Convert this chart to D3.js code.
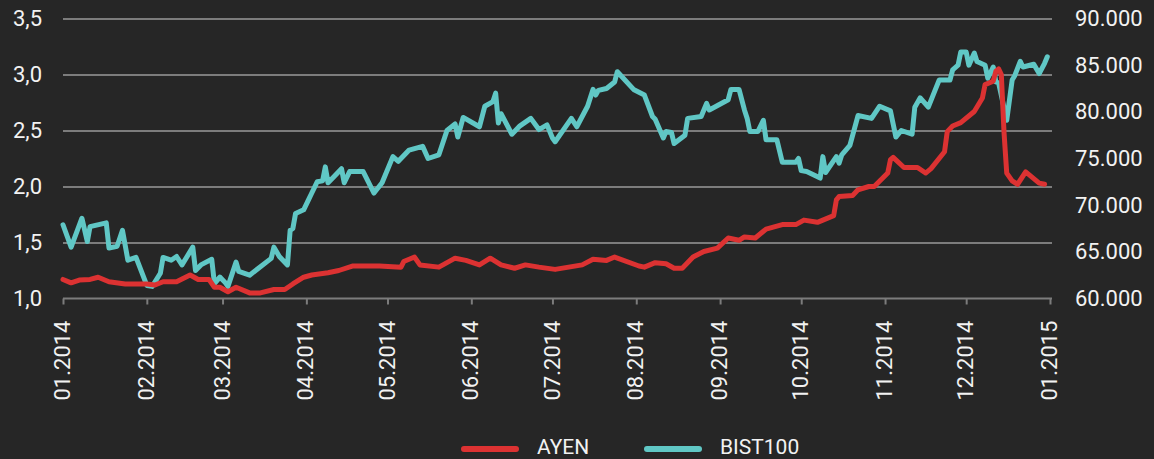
<!DOCTYPE html>
<html lang="en">

<head>
    <meta charset="UTF-8">
    <title>AYEN / BIST100</title>
    <style>
        html, body {
            margin: 0;
            padding: 0;
            background: #262626;
        }

        svg#chart {
            display: block;
        }
    </style>
</head>

<body>
    <script src="https://d3js.org/d3.v7.min.js"></script>
    <script>
        // AYEN (left axis) vs BIST100 (right axis), 2014

        const seriesNames = ['AYEN', 'BIST100']
        const leftTicks = [1.0, 1.5, 2.0, 2.5, 3.0, 3.5]
        const rightTicks = [60000, 65000, 70000, 75000, 80000, 85000, 90000]

        const ayenData = [
            ['2014-01-01', 1.17], ['2014-01-04', 1.14], ['2014-01-07', 1.165], ['2014-01-11', 1.17],
            ['2014-01-14', 1.19], ['2014-01-18', 1.15], ['2014-01-24', 1.13], ['2014-02-01', 1.13],
            ['2014-02-04', 1.12], ['2014-02-07', 1.15], ['2014-02-12', 1.15], ['2014-02-17', 1.21],
            ['2014-02-20', 1.17], ['2014-02-24', 1.17], ['2014-02-26', 1.10], ['2014-02-28', 1.10],
            ['2014-03-03', 1.06], ['2014-03-06', 1.10], ['2014-03-11', 1.05], ['2014-03-15', 1.05],
            ['2014-03-20', 1.08], ['2014-03-24', 1.08], ['2014-03-27', 1.13], ['2014-03-31', 1.19],
            ['2014-04-03', 1.21], ['2014-04-09', 1.23], ['2014-04-13', 1.25], ['2014-04-18', 1.29],
            ['2014-04-28', 1.29], ['2014-05-06', 1.28], ['2014-05-07', 1.33], ['2014-05-11', 1.37],
            ['2014-05-13', 1.30], ['2014-05-20', 1.28], ['2014-05-26', 1.36], ['2014-05-30', 1.34],
            ['2014-06-04', 1.30], ['2014-06-08', 1.36], ['2014-06-12', 1.30], ['2014-06-17', 1.27],
            ['2014-06-21', 1.30], ['2014-06-26', 1.28], ['2014-07-02', 1.26], ['2014-07-07', 1.28],
            ['2014-07-12', 1.30], ['2014-07-16', 1.35], ['2014-07-21', 1.34], ['2014-07-24', 1.37],
            ['2014-08-02', 1.29], ['2014-08-04', 1.28], ['2014-08-08', 1.32], ['2014-08-12', 1.31],
            ['2014-08-15', 1.27], ['2014-08-18', 1.27], ['2014-08-22', 1.37], ['2014-08-26', 1.42],
            ['2014-08-31', 1.45], ['2014-09-04', 1.54], ['2014-09-08', 1.52], ['2014-09-10', 1.55],
            ['2014-09-14', 1.54], ['2014-09-18', 1.62], ['2014-09-21', 1.64], ['2014-09-24', 1.66],
            ['2014-09-29', 1.66], ['2014-10-02', 1.70], ['2014-10-07', 1.68], ['2014-10-11', 1.72],
            ['2014-10-13', 1.74], ['2014-10-14', 1.88], ['2014-10-15', 1.91], ['2014-10-20', 1.92],
            ['2014-10-22', 1.97], ['2014-10-26', 2.00], ['2014-10-28', 2.00], ['2014-11-02', 2.12],
            ['2014-11-03', 2.24], ['2014-11-04', 2.26], ['2014-11-08', 2.17], ['2014-11-13', 2.17],
            ['2014-11-16', 2.12], ['2014-11-18', 2.16], ['2014-11-23', 2.31], ['2014-11-24', 2.49],
            ['2014-11-26', 2.54], ['2014-11-29', 2.57], ['2014-12-04', 2.67], ['2014-12-06', 2.75],
            ['2014-12-07', 2.79], ['2014-12-08', 2.91], ['2014-12-11', 2.94], ['2014-12-12', 3.03],
            ['2014-12-13', 3.05], ['2014-12-14', 3.00], ['2014-12-15', 2.48], ['2014-12-16', 2.12],
            ['2014-12-18', 2.05], ['2014-12-20', 2.02], ['2014-12-23', 2.13], ['2014-12-25', 2.09],
            ['2014-12-28', 2.03], ['2014-12-30', 2.02]
        ]

        const bistData = [
            ['2014-01-01', 67900], ['2014-01-04', 65500], ['2014-01-08', 68600], ['2014-01-10', 66100],
            ['2014-01-11', 67700], ['2014-01-17', 68100], ['2014-01-18', 65400], ['2014-01-21', 65600],
            ['2014-01-23', 67300], ['2014-01-25', 64100], ['2014-01-28', 64400], ['2014-02-01', 61400],
            ['2014-02-03', 61300], ['2014-02-06', 62700], ['2014-02-07', 64400], ['2014-02-10', 64100],
            ['2014-02-12', 64500], ['2014-02-14', 63600], ['2014-02-18', 65500], ['2014-02-19', 63000],
            ['2014-02-21', 63600], ['2014-02-25', 64200], ['2014-02-26', 61600], ['2014-02-28', 62300],
            ['2014-03-02', 61700], ['2014-03-03', 61300], ['2014-03-06', 63900], ['2014-03-07', 62900],
            ['2014-03-11', 62500], ['2014-03-19', 64300], ['2014-03-20', 65500], ['2014-03-22', 64500],
            ['2014-03-25', 63600], ['2014-03-26', 67300], ['2014-03-27', 67500], ['2014-03-28', 69100],
            ['2014-03-31', 69500], ['2014-04-02', 70700], ['2014-04-03', 71300], ['2014-04-05', 72500],
            ['2014-04-07', 72600], ['2014-04-08', 74100], ['2014-04-09', 72400], ['2014-04-11', 73000],
            ['2014-04-14', 73900], ['2014-04-15', 72400], ['2014-04-17', 73600], ['2014-04-22', 73600],
            ['2014-04-26', 71300], ['2014-04-29', 72400], ['2014-05-03', 75200], ['2014-05-05', 74700],
            ['2014-05-09', 75900], ['2014-05-14', 76300], ['2014-05-16', 75000], ['2014-05-20', 75400],
            ['2014-05-23', 78000], ['2014-05-26', 78700], ['2014-05-27', 77300], ['2014-05-29', 79400],
            ['2014-06-04', 78400], ['2014-06-06', 80600], ['2014-06-09', 81100], ['2014-06-10', 82000],
            ['2014-06-11', 78800], ['2014-06-12', 79800], ['2014-06-16', 77600], ['2014-06-19', 78500],
            ['2014-06-23', 79300], ['2014-06-26', 78100], ['2014-06-29', 78600], ['2014-07-01', 77200],
            ['2014-07-02', 76800], ['2014-07-08', 79300], ['2014-07-10', 78400], ['2014-07-14', 80600],
            ['2014-07-16', 82400], ['2014-07-17', 81800], ['2014-07-18', 82300], ['2014-07-21', 82500],
            ['2014-07-24', 83200], ['2014-07-25', 84300], ['2014-07-31', 82400], ['2014-08-04', 81800],
            ['2014-08-07', 79500], ['2014-08-08', 79200], ['2014-08-11', 77200], ['2014-08-12', 77900],
            ['2014-08-14', 77800], ['2014-08-15', 76600], ['2014-08-19', 77500], ['2014-08-20', 79300],
            ['2014-08-25', 79500], ['2014-08-27', 80900], ['2014-08-28', 80200], ['2014-09-04', 81300],
            ['2014-09-05', 82400], ['2014-09-08', 82400], ['2014-09-10', 80200], ['2014-09-11', 79300],
            ['2014-09-12', 77900], ['2014-09-15', 77900], ['2014-09-17', 79100], ['2014-09-18', 77000],
            ['2014-09-22', 77000], ['2014-09-24', 74600], ['2014-09-29', 74600], ['2014-09-30', 75000],
            ['2014-10-01', 73700], ['2014-10-03', 73600], ['2014-10-08', 72900], ['2014-10-09', 75200],
            ['2014-10-10', 73500], ['2014-10-14', 75200], ['2014-10-15', 74500], ['2014-10-16', 75400],
            ['2014-10-19', 76400], ['2014-10-22', 79600], ['2014-10-27', 79300], ['2014-10-30', 80600],
            ['2014-11-03', 80100], ['2014-11-05', 77300], ['2014-11-07', 78000], ['2014-11-11', 77600],
            ['2014-11-12', 80500], ['2014-11-14', 81500], ['2014-11-17', 80500], ['2014-11-21', 83400],
            ['2014-11-25', 83400], ['2014-11-26', 84500], ['2014-11-28', 85000], ['2014-11-29', 86400],
            ['2014-12-01', 86400], ['2014-12-02', 85000], ['2014-12-04', 86300], ['2014-12-05', 85400],
            ['2014-12-08', 85000], ['2014-12-09', 83600], ['2014-12-11', 84800], ['2014-12-12', 83200],
            ['2014-12-13', 83100], ['2014-12-16', 79100], ['2014-12-18', 83400], ['2014-12-19', 83900],
            ['2014-12-21', 85400], ['2014-12-22', 84800], ['2014-12-26', 85100], ['2014-12-28', 84100],
            ['2014-12-30', 85200], ['2014-12-31', 85900]
        ]

        const width = 1154
        const height = 459
        const plot = { left: 63, right: 1050, top: 18.5, bottom: 298.5 }
        const colors = { AYEN: '#dc3232', BIST100: '#60c7c5' }
        const font = 'Roboto, "DejaVu Sans", sans-serif'
        const gridColor = '#7c7c7c'
        const textColor = '#f2f2f2'

        const parseDate = d3.timeParse('%Y-%m-%d')
        const trLocale = d3.formatLocale({ decimal: ',', thousands: '.', grouping: [3], currency: ['', ''] })

        const svg = d3.select('body')
            .append('svg')
            .attr('id', 'chart')
            .attr('width', width)
            .attr('height', height)

        const x = d3.scaleTime()
            .domain([new Date(2014, 0, 1), new Date(2015, 0, 1)])
            .range([plot.left, plot.right])

        const yLeft = d3.scaleLinear()
            .domain([1, 3.5])
            .range([plot.bottom, plot.top])

        const yRight = d3.scaleLinear()
            .domain([60000, 90000])
            .range([plot.bottom, plot.top])

        // horizontal grid lines
        const grid = svg.append('g')
            .attr('class', 'grid')
            .attr('transform', 'translate(' + plot.left + ',0)')
            .call(d3.axisLeft(yLeft)
                .tickValues(leftTicks.slice(1))
                .tickSize(-(plot.right + 2 - plot.left))
                .tickFormat(''))
        grid.select('.domain').remove()
        grid.selectAll('line')
            .attr('stroke', gridColor)
            .attr('stroke-width', 2)

        // x axis with rotated month labels
        const xAxis = svg.append('g')
            .attr('class', 'x-axis')
            .attr('transform', 'translate(0,' + plot.bottom + ')')
            .call(d3.axisBottom(x)
                .ticks(d3.timeMonth.every(1))
                .tickSize(6)
                .tickSizeOuter(0)
                .tickFormat(d3.timeFormat('%m.%Y')))
        xAxis.select('.domain')
            .attr('stroke', gridColor)
            .attr('stroke-width', 2)
            .attr('d', 'M' + plot.left + ',0H' + (plot.right + 2))
        xAxis.selectAll('line')
            .attr('stroke', gridColor)
            .attr('stroke-width', 2)
        xAxis.selectAll('text')
            .attr('transform', 'rotate(-90)')
            .attr('x', -22)
            .attr('y', 0)
            .attr('dy', '0.3em')
            .style('text-anchor', 'end')
            .attr('fill', textColor)
            .attr('font-family', font)
            .attr('font-size', 22)

        // left axis labels
        const leftAxis = svg.append('g')
            .attr('transform', 'translate(' + plot.left + ',0)')
            .call(d3.axisLeft(yLeft)
                .tickValues(leftTicks)
                .tickSize(0)
                .tickPadding(21)
                .tickFormat(trLocale.format('.1f')))
        leftAxis.select('.domain').remove()
        leftAxis.selectAll('text')
            .attr('fill', textColor)
            .attr('font-family', font)
            .attr('font-size', 22)

        // right axis labels
        const rightAxis = svg.append('g')
            .attr('transform', 'translate(' + plot.right + ',0)')
            .call(d3.axisRight(yRight)
                .tickValues(rightTicks)
                .tickSize(0)
                .tickPadding(25)
                .tickFormat(trLocale.format(',.0f')))
        rightAxis.select('.domain').remove()
        rightAxis.selectAll('text')
            .attr('fill', textColor)
            .attr('font-family', font)
            .attr('font-size', 22)

        drawLine(bistData, yRight, colors.BIST100)
        drawLine(ayenData, yLeft, colors.AYEN)
        drawLegend()

        function drawLine(data, yScale, color) {
            const line = d3.line()
                .x(d => x(parseDate(d[0])))
                .y(d => yScale(d[1]))

            svg.append('g')
                .append('path')
                .attr('class', 'line')
                .datum(data)
                .attr('fill', 'none')
                .attr('stroke', color)
                .attr('stroke-width', 5)
                .attr('stroke-linejoin', 'round')
                .attr('stroke-linecap', 'round')
                .attr('d', line)
        }

        function drawLegend() {
            const legendX = [462, 645]
            const legend = svg.append('g')
                .attr('class', 'legend')

            seriesNames.forEach((name, i) => {
                const item = legend.append('g')
                    .attr('transform', 'translate(' + legendX[i] + ',449)')
                item.append('line')
                    .attr('x1', 2)
                    .attr('x2', 54)
                    .attr('y1', 0)
                    .attr('y2', 0)
                    .attr('stroke', colors[name])
                    .attr('stroke-width', 6)
                    .attr('stroke-linecap', 'round')
                item.append('text')
                    .attr('x', 75)
                    .attr('y', 5)
                    .attr('fill', textColor)
                    .attr('font-family', font)
                    .attr('font-size', 21)
                    .text(name)
            })
        }

    </script>
</body>

</html>
